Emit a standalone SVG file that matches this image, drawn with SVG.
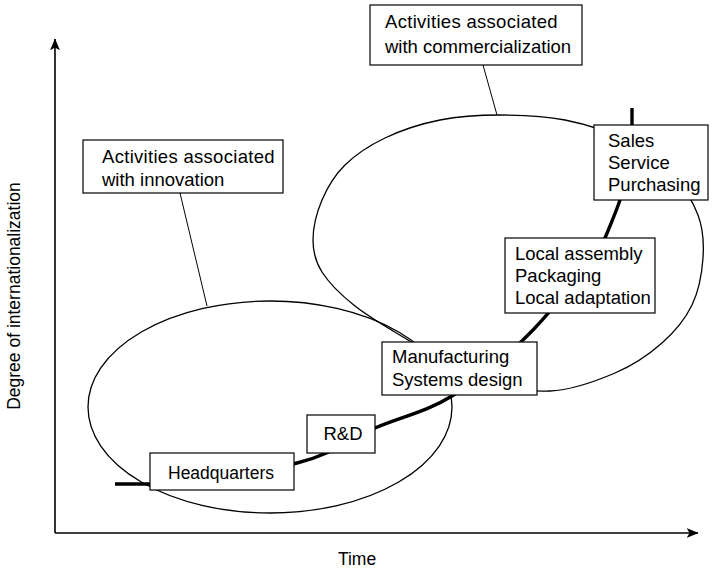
<svg xmlns="http://www.w3.org/2000/svg" width="713" height="570" viewBox="0 0 713 570">
  <style>
    text { font-family: "Liberation Sans", Arial, sans-serif; font-size: 18.5px; fill: #000; }
    .axis-label { font-size: 17.5px; }
    .wide { letter-spacing: 0.3px; }
    .box { fill: #fff; stroke: #000; stroke-width: 1.2; }
    .ellipse { fill: none; stroke: #000; stroke-width: 1.3; }
    .leader { stroke: #000; stroke-width: 1; fill: none; }
    .axis { stroke: #000; stroke-width: 1.6; fill: none; }
    .trend { stroke: #000; stroke-width: 3.4; fill: none; stroke-linecap: butt; }
  </style>
  <defs>
    <marker id="arrow" viewBox="0 0 10 10" refX="9.5" refY="5" markerWidth="12" markerHeight="11" markerUnits="userSpaceOnUse" orient="auto" preserveAspectRatio="none">
      <path d="M0,0.5 L10,5 L0,9.5 L2.5,5 Z" fill="#000"/>
    </marker>
  </defs>

  <rect width="713" height="570" fill="#fff"/>

  <!-- axes -->
  <g id="axes">
    <line class="axis" x1="55" y1="533" x2="55" y2="39" marker-end="url(#arrow)"/>
    <line class="axis" x1="55" y1="533" x2="698" y2="533" marker-end="url(#arrow)"/>
    <text class="axis-label" x="357" y="565" text-anchor="middle">Time</text>
    <text class="axis-label" transform="translate(20,296) rotate(-90)" text-anchor="middle">Degree of internationalization</text>
  </g>

  <!-- activity clusters -->
  <g id="clusters">
    <ellipse id="innovation-cluster" class="ellipse" cx="270" cy="407" rx="182" ry="106"/>
    <path id="commercialization-cluster" class="ellipse" d="M313,240 C313,228 316.7,212.5 322,200 C327.3,187.5 334.5,175.3 345,165 C355.5,154.7 369.2,145.5 385,138 C400.8,130.5 420.8,123.8 440,120 C459.2,116.2 479.2,115 500,115 C520.8,115 544.2,115.8 565,120 C585.8,124.2 607.2,130.8 625,140 C642.8,149.2 659.8,162.5 672,175 C684.2,187.5 692.8,201.2 698,215 C703.2,228.8 704,243 703,258 C702,273 698.8,290.8 692,305 C685.2,319.2 674.8,331.7 662,343 C649.2,354.3 633.7,365 615,373 C596.3,381 573.3,390 550,391 C526.7,392 498.7,387.5 475,379 C451.3,370.5 428,352.2 408,340 C388,327.8 369.3,317.3 355,306 C340.7,294.7 329,283 322,272 C315,261 313,252 313,240 Z"/>
  </g>

  <!-- connectors: leader lines and the internationalization curve -->
  <g id="connectors">
    <line class="leader" x1="180" y1="193" x2="207" y2="306"/>
    <line class="leader" x1="483" y1="65" x2="497" y2="115"/>
    <path class="trend" d="M115,484 L150,484 C200,484 259.5,472.3 297,463 C334.5,453.7 349.2,439.2 375,428 C400.8,416.8 425.7,412.3 452,396 C478.3,379.7 507.5,356.3 533,330 C558.5,303.7 590.5,259.7 605,238 C610,226 616,212 620,200 C624,188 631,150 632,125 L632,108"/>
  </g>

  <g id="innovation-label">
    <rect class="box" x="83" y="140" width="200" height="53"/>
    <text class="wide" x="102" y="163">Activities associated</text>
    <text x="102" y="186">with innovation</text>
  </g>

  <g id="commercialization-label">
    <rect class="box" x="370" y="5" width="212" height="60"/>
    <text class="wide" x="385" y="28">Activities associated</text>
    <text x="385" y="53">with commercialization</text>
  </g>

  <g id="sales">
    <rect class="box" x="594" y="125" width="114" height="75"/>
    <text x="608" y="147">Sales</text>
    <text x="608" y="169">Service</text>
    <text x="608" y="191">Purchasing</text>
  </g>

  <g id="local-assembly">
    <rect class="box" x="505" y="238" width="150" height="75"/>
    <text x="515" y="260">Local assembly</text>
    <text x="515" y="282">Packaging</text>
    <text x="515" y="304">Local adaptation</text>
  </g>

  <g id="manufacturing">
    <rect class="box" x="382" y="342" width="155" height="53"/>
    <text x="392" y="363">Manufacturing</text>
    <text x="392" y="386">Systems design</text>
  </g>

  <g id="rnd">
    <rect class="box" x="307" y="415" width="68" height="38"/>
    <text x="343" y="440" text-anchor="middle">R&amp;D</text>
  </g>

  <g id="headquarters">
    <rect class="box" x="150" y="453" width="144" height="37"/>
    <text x="168" y="479" style="font-size:17.5px">Headquarters</text>
  </g>
</svg>
